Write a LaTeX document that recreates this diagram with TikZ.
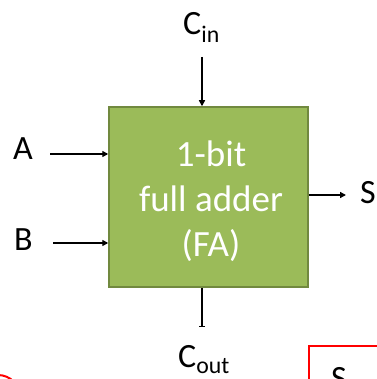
\documentclass[tikz,border=0pt]{standalone}
\usepackage{fontspec}
\setmainfont{Carlito}
\usetikzlibrary{arrows.meta}
\definecolor{fagreen}{HTML}{9BBB59}
\definecolor{faedge}{HTML}{71893F}
\tikzset{
  lbl/.style={anchor=base west, inner sep=0pt, font=\fontsize{34}{40}\selectfont},
  conn/.style={line width=1.4pt, -{Triangle[length=6pt,width=6pt]}},
  redline/.style={draw=red, line width=2pt}
}
\begin{document}
\begin{tikzpicture}[x=1pt,y=-1pt]
\useasboundingbox (0,0) rectangle (376,379);
\node[draw=faedge, fill=fagreen, line width=1.5pt, minimum width=199pt, minimum height=180pt, inner sep=0pt] (fa) at (208.5,197) {};
\node[text=white, align=center, inner sep=0pt, font=\fontsize{37}{45}\selectfont] (fatext) at (211,201) {1-bit\\full adder\\(FA)};
\node[lbl] (cin) at (183,35) {C\textsubscript{in}};
\node[lbl] (a) at (13,160) {A};
\node[lbl] (b) at (14,250) {B};
\node[lbl] (s) at (360,203) {S};
\node[lbl] (cout) at (178,367) {C\textsubscript{out}};
\coordinate (cinstart) at (202,57);
\coordinate (astart) at (50,154);
\coordinate (bstart) at (53,243);
\coordinate (send) at (346,195);
\coordinate (coutend) at (202,327);
\draw[conn] (cinstart) -- (cinstart |- fa.north);
\draw[conn] (astart) -- (astart -| fa.west);
\draw[conn] (bstart) -- (bstart -| fa.west);
\draw[conn] (send -| fa.east) -- (send);
\draw[line width=1.4pt, -{Bar[width=6pt]}] (coutend |- fa.south) -- (coutend);
\draw[redline] (-2,397) circle[radius=22];
\draw[redline] (309,420) -- (309,346) -- (420,346);
\node[lbl] (s2) at (331,389) {S};
\end{tikzpicture}
\end{document}
